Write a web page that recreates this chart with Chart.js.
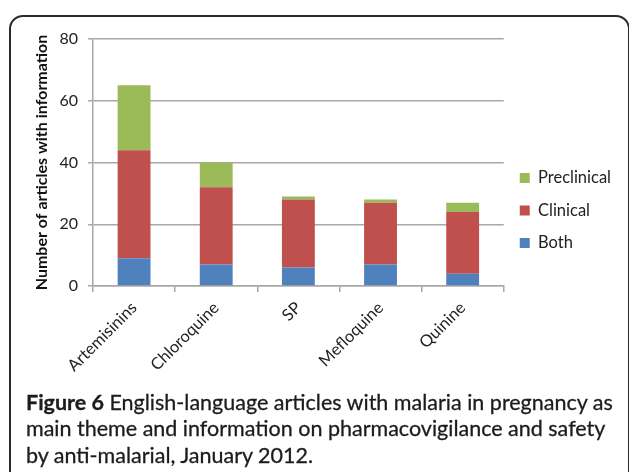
<!DOCTYPE html>
<html>
<head>
<meta charset="utf-8">
<script src="https://cdn.jsdelivr.net/npm/chart.js@4.4.0/dist/chart.umd.min.js"></script>
<style>
body{margin:0;width:629px;height:472px;overflow:hidden;background:#fff;position:relative;font-family:Lato, sans-serif;}
.marco{position:absolute;left:9px;top:15px;width:617px;height:500px;border:2px solid #2b2b2b;border-radius:14px;}
.grafico{position:absolute;left:0;top:0;width:629px;height:400px;}
.leyenda{position:absolute;left:26px;top:388.5px;font-size:21.5px;line-height:26.5px;color:#1e1b1c;white-space:nowrap;-webkit-text-stroke:0.3px #1e1b1c;}
</style>
</head>
<body>
<div class="marco"></div>
<div class="grafico"><canvas id="grafico"></canvas></div>
<div class="leyenda"><b>Figure 6</b> English-language articles with malaria in pregnancy as<br>main theme and information on pharmacovigilance and safety<br>by anti-malarial, January 2012.</div>
<script>
const categorias = ['Artemisinins', 'Chloroquine', 'SP', 'Mefloquine', 'Quinine'];
const ambos = [9, 7, 6, 7, 4];
const clinicos = [35, 25, 22, 20, 20];
const preclinicos = [21, 8, 1, 1, 3];
const marcasY = [0, 20, 40, 60, 80];

const gris = '#a8a8a8';

let contexto = document.getElementById('grafico').getContext('2d');

window.grafico = new Chart(contexto, {
    type: 'bar',
    data: {
        labels: categorias,
        datasets: [
            {label: 'Both', data: ambos, backgroundColor: '#4f81bd'},
            {label: 'Clinical', data: clinicos, backgroundColor: '#c0504d'},
            {label: 'Preclinical', data: preclinicos, backgroundColor: '#9bbb59'},
        ],
    },
    options: {
        responsive: true,
        maintainAspectRatio: false,
        animation: false,
        datasets: {bar: {barPercentage: 0.4, categoryPercentage: 1.0}},
        layout: {padding: {left: 28, top: 39, right: 8, bottom: 18}},
        plugins: {
            tooltip: {enabled: false},
            legend: {
                position: 'right',
                reverse: true,
                labels: {
                    boxWidth: 10,
                    boxHeight: 10,
                    padding: 16,
                    color: '#222',
                    font: {family: 'Lato', size: 16.5},
                },
            },
        },
        scales: {
            x: {
                stacked: true,
                afterFit: (escala) => { escala.height = 96; },
                grid: {offset: true, drawOnChartArea: false, tickLength: 6, color: gris, lineWidth: 1.5},
                border: {color: gris, width: 1.5},
                ticks: {minRotation: 45, maxRotation: 45, color: '#222', font: {family: 'Lato', size: 16.5}, padding: 6},
            },
            y: {
                stacked: true,
                min: 0,
                max: 80,
                afterFit: (escala) => { escala.width = 65; },
                afterBuildTicks: (escala) => { escala.ticks = marcasY.map(v => ({value: v})); },
                grid: {color: gris, lineWidth: 1.5, tickLength: 5},
                border: {color: gris, width: 1.5},
                ticks: {color: '#222', font: {family: 'Lato', size: 16}, padding: 10},
                title: {
                    display: true,
                    text: 'Number of articles with information',
                    color: '#111',
                    font: {family: 'Lato', size: 16, weight: 'bold'},
                    padding: {top: 4, bottom: 4},
                },
            },
        },
    },
});
</script>
</body>
</html>
